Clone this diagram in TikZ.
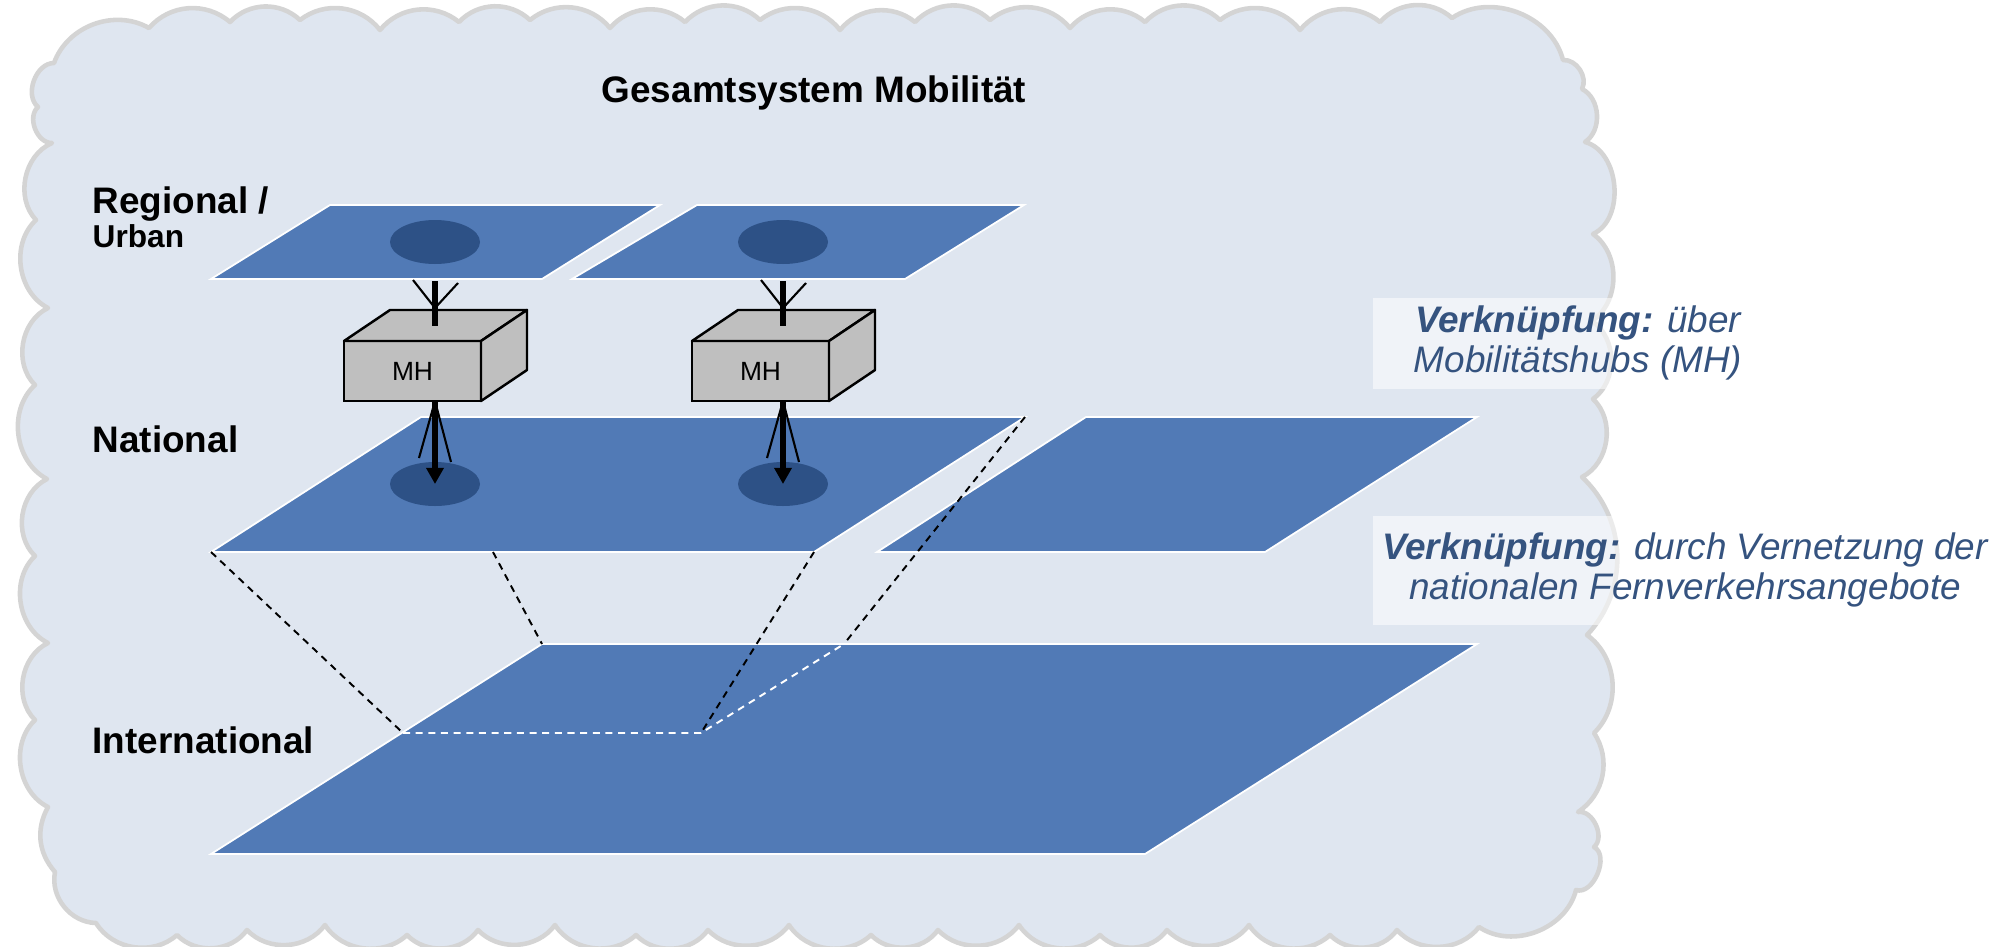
\documentclass[tikz,border=0pt]{standalone}
\usepackage{fontspec}
\setmainfont{Liberation Sans}
\usepackage{tikz}
\usetikzlibrary{shapes.geometric,arrows.meta}

\definecolor{cloudfill}{HTML}{DFE6F0}
\definecolor{cloudline}{HTML}{D4D4D4}
\definecolor{planeblue}{HTML}{517AB6}
\definecolor{hubblue}{HTML}{2D5186}
\definecolor{boxgray}{HTML}{BFBFBF}
\definecolor{noteblue}{HTML}{35537F}

\begin{document}
\begin{tikzpicture}[x=.1mm,y=-.1mm,
  plane/.style={fill=planeblue,draw=white,line width=.5pt},
  hub/.style={ellipse,fill=hubblue,minimum width=9mm,minimum height=4.4mm,inner sep=0pt},
  mhbox/.style={draw,line width=.7pt,fill=boxgray,minimum width=13.7mm,minimum height=6mm,inner sep=0pt,outer sep=0pt,font=\fontsize{7.5}{8}\selectfont},
  mhface/.style={draw,line width=.7pt,fill=boxgray,line join=round},
  layer/.style={anchor=west,align=left,inner sep=0pt,font=\fontsize{10.5}{9.7}\selectfont\bfseries},
  note/.style={fill=white,fill opacity=.55,text opacity=1,text=noteblue,align=center,inner sep=0pt,font=\fontsize{10.5}{11.5}\selectfont\itshape},
  proj/.style={dash pattern=on 2pt off 1.6pt,line width=.55pt},
  shaft/.style={line width=1.5pt},
  fan/.style={line width=.6pt}]

\useasboundingbox (0,0) rectangle (2008,946);

% cloud
\filldraw[fill=cloudfill,draw=cloudline,line width=1.3pt,line join=round]
  (149,28) to[bend left=45] (230,22) to[bend left=45] (300,20) to[bend left=45] (380,30)
  to[bend left=45] (459,22) to[bend left=45] (530,20) to[bend left=45] (610,28)
  to[bend left=45] (685,22) to[bend left=45] (760,20) to[bend left=45] (840,30)
  to[bend left=45] (915,22) to[bend left=45] (990,20) to[bend left=45] (1070,28)
  to[bend left=45] (1145,22) to[bend left=45] (1220,20) to[bend left=45] (1300,30)
  to[bend left=45] (1380,22) to[bend left=45] (1452,18)
  to[bend left=55] (1563,60) to[bend left=60] (1582,89) to[bend left=60] (1585,142)
  to[bend left=70] (1593,234) to[bend left=55] (1592,321) to[bend left=55] (1593,399)
  to[bend left=55] (1582,477) to[bend left=45] (1587,635) to[bend left=50] (1594,733)
  to[bend left=45] (1578,812) to[bend left=75] (1594,847) to[bend left=85] (1576,890)
  to[bend left=55] (1479,927)
  to[bend left=50] (1397,930) to[bend left=50] (1330,935) to[bend left=50] (1249,925)
  to[bend left=50] (1167,930) to[bend left=50] (1100,935) to[bend left=50] (1019,925)
  to[bend left=50] (938,930) to[bend left=50] (871,935) to[bend left=50] (789,925)
  to[bend left=50] (708,930) to[bend left=50] (636,935) to[bend left=50] (555,925)
  to[bend left=50] (478,930) to[bend left=50] (407,935) to[bend left=50] (325,925)
  to[bend left=50] (247,930) to[bend left=50] (177,935) to[bend left=50] (96,923)
  to[bend left=50] (55,872) to[bend left=35] (48,807) to[bend left=55] (35,720)
  to[bend left=55] (48,643) to[bend left=55] (35,556) to[bend left=55] (47,479)
  to[bend left=55] (35,385) to[bend left=55] (48,308) to[bend left=55] (36,220)
  to[bend left=55] (52,143) to[bend left=70] (38,107) to[bend left=70] (54,63)
  to[bend left=50] (149,28) -- cycle;

\node[font=\fontsize{10.5}{12}\selectfont\bfseries] (title) at (814,93) {Gesamtsystem Mobilität};

% layers
\filldraw[plane] (330,205) -- (660,205) -- (542,279) -- (211,279) -- cycle;
\filldraw[plane] (697,205) -- (1024,205) -- (905,279) -- (572,279) -- cycle;

\coordinate (nTL) at (421,417);
\coordinate (nTR) at (1025,417);
\coordinate (nBR) at (814,552);
\coordinate (nBL) at (211,552);
\filldraw[plane] (nTL) -- (nTR) -- (nBR) -- (nBL) -- cycle;
\filldraw[plane] (1086,417) -- (1477,417) -- (1265,552) -- (877,552) -- cycle;

\coordinate (iTL) at (542,644);
\filldraw[plane] (iTL) -- (1477,644) -- (1145,854) -- (211,854) -- cycle;

\node[layer] (lreg) at (92,217) {Regional /\\{\fontsize{9}{9.7}\selectfont Urban}};
\node[layer] (lnat) at (92,439) {National};
\node[layer] (lint) at (92,740) {International};

% projection of the national layer
\coordinate (nB) at (493,552);
\coordinate (p1) at (403,733);
\coordinate (p2) at (701,733);
\coordinate (p3) at (844,644);
\draw[proj] (nBL) -- (p1);
\draw[proj] (nB) -- (iTL);
\draw[proj] (nBR) -- (p2);
\draw[proj] (nTR) -- (p3);
\draw[proj,white] (p1) -- (p2) -- (p3);

% mobility hubs
\node[hub] (r1) at (435,242) {};
\node[hub] (n1) at (435,484) {};
\node[mhbox] (mh1) at (412.5,371) {MH};
\draw[mhface] (mh1.north west) -- ++(46,-31) -- ++(137,0) -- (mh1.north east) -- cycle;
\draw[mhface] (mh1.north east) -- ++(46,-31) -- ++(0,60) -- (mh1.south east) -- cycle;
\coordinate (a1) at (435,281);
\coordinate (t1) at (435,326);
\coordinate (v1) at (435,308);
\draw[shaft] (a1) -- (t1);
\draw[fan] (v1) -- ++(-22,-28) (v1) -- ++(23,-25);
\draw[shaft,-{Triangle[length=4.6pt,width=4.8pt]}] (mh1.south -| n1) -- (n1.center);
\draw[fan] (mh1.south -| n1) -- ++(-16,57) (mh1.south -| n1) -- ++(16,61);

\begin{scope}[shift={(348,0)}]
\node[hub] (r2) at (435,242) {};
\node[hub] (n2) at (435,484) {};
\node[mhbox] (mh2) at (412.5,371) {MH};
\draw[mhface] (mh2.north west) -- ++(46,-31) -- ++(137,0) -- (mh2.north east) -- cycle;
\draw[mhface] (mh2.north east) -- ++(46,-31) -- ++(0,60) -- (mh2.south east) -- cycle;
\coordinate (a2) at (435,281);
\coordinate (t2) at (435,326);
\coordinate (v2) at (435,308);
\draw[shaft] (a2) -- (t2);
\draw[fan] (v2) -- ++(-22,-28) (v2) -- ++(23,-25);
\draw[shaft,-{Triangle[length=4.6pt,width=4.8pt]}] (mh2.south -| n2) -- (n2.center);
\draw[fan] (mh2.south -| n2) -- ++(-16,57) (mh2.south -| n2) -- ++(16,61);
\end{scope}

% links
\node[note,minimum width=41mm,minimum height=9.1mm] (hint1) at (1578,343)
  {{\bfseries Verknüpfung:} über\\Mobilitätshubs (MH)};
\node[note,minimum width=62.4mm,minimum height=10.9mm] (hint2) at (1685,570)
  {{\bfseries Verknüpfung:} durch Vernetzung der\\nationalen Fernverkehrsangebote};
\end{tikzpicture}
\end{document}
